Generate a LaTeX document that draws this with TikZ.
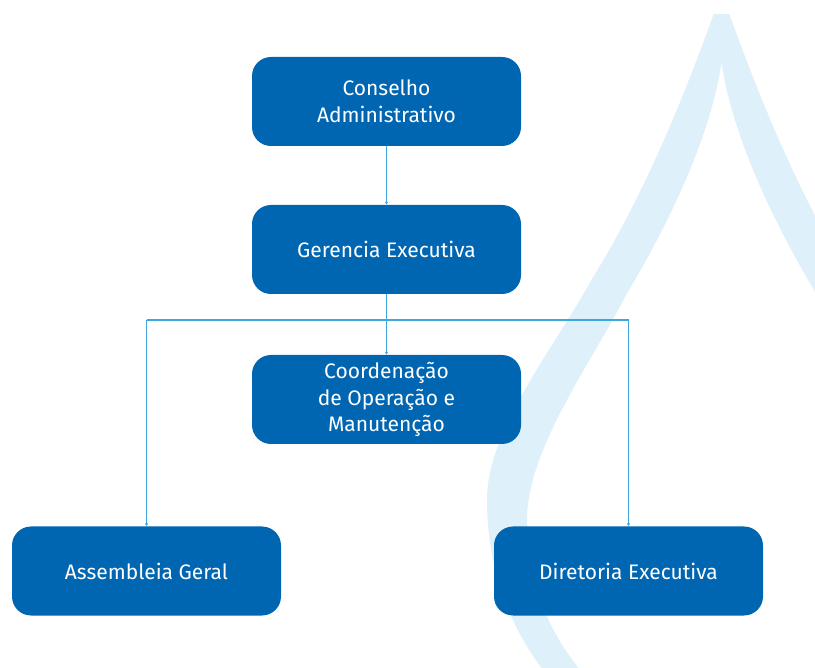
\documentclass[tikz,border=0pt]{standalone}
\usepackage{fontspec}
\setmainfont{Fira Sans}
\usetikzlibrary{arrows.meta}

\definecolor{boxblue}{RGB}{0,102,178}
\definecolor{linkblue}{RGB}{62,168,222}
\definecolor{dropblue}{RGB}{222,240,250}

\tikzset{
  orgbox/.style={rectangle, rounded corners=19pt, fill=boxblue, draw=none,
    minimum width=269pt, minimum height=89pt, inner sep=0pt,
    text=white, align=center,
    font=\fontsize{21pt}{26.5pt}\selectfont},
  link/.style={draw=linkblue, line width=1.3pt,
    -{Latex[length=3pt,width=3.5pt]}},
  busline/.style={draw=linkblue, line width=1.3pt}
}

\begin{document}
\begin{tikzpicture}[x=1pt,y=-1pt]
  \useasboundingbox (0,0) rectangle (815,668);
  \fill[white] (0,0) rectangle (815,668);

  % pale water-drop emblem behind the chart
  \begin{scope}
    \clip (0,15) rectangle (815,668);
    \fill[dropblue, even odd rule]
      % outer outline
      (721.5,-8)
        .. controls (690,82) and (648,189) .. (592,279)
        .. controls (553.5,349) and (487,430) .. (487,500)
        arc[start angle=180, end angle=0, x radius=234.5, y radius=262]
        .. controls (956,430) and (889.5,349) .. (851,279)
        .. controls (795,189) and (753,82) .. (721.5,-8) -- cycle
      % inner outline
      (721.5,62)
        .. controls (712,130) and (674,215) .. (626,295)
        .. controls (590,365) and (527,450) .. (527,520)
        arc[start angle=180, end angle=0, x radius=194.5, y radius=218]
        .. controls (916,450) and (853,365) .. (817,295)
        .. controls (769,215) and (731,130) .. (721.5,62) -- cycle;
  \end{scope}

  % organisation boxes
  \node[orgbox] (con) at (386.5,101.5) {Conselho\\Administrativo};
  \node[orgbox] (ger) at (386.5,249.5) {Gerencia Executiva};
  \node[orgbox] (coo) at (386.5,399.5) {Coordenação\\de Operação e\\Manutenção};
  \node[orgbox] (asm) at (146.5,571) {Assembleia Geral};
  \node[orgbox] (dir) at (628.5,571) {Diretoria Executiva};

  % connectors
  \coordinate (bus) at (386.5,320);
  \draw[link] (con.south) -- (ger.north);
  \draw[link] (ger.south) -- (coo.north);
  \draw[busline] (bus -| asm.north) -- (bus -| dir.north);
  \draw[link] (bus -| asm.north) -- (asm.north);
  \draw[link] (bus -| dir.north) -- (dir.north);
\end{tikzpicture}
\end{document}
